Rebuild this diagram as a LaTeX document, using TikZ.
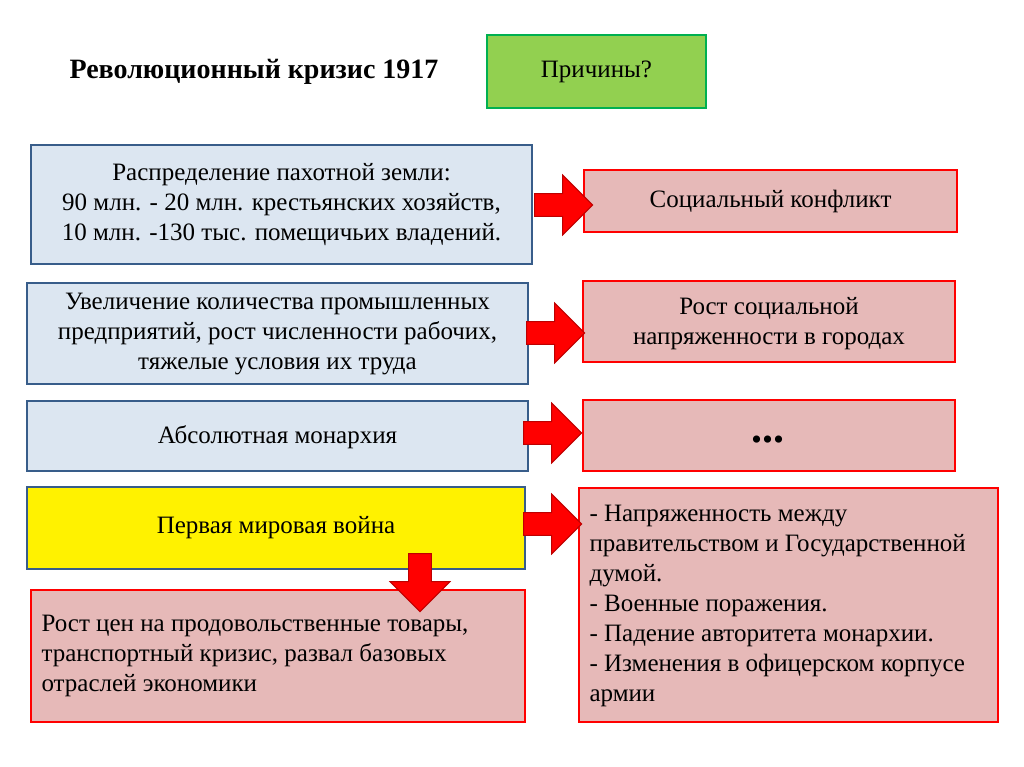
\documentclass[tikz,border=0pt]{standalone}
\usepackage{fontspec}
\setmainfont{Liberation Serif}
\usetikzlibrary{shapes.arrows}
\definecolor{bluefill}{RGB}{220,230,241}
\definecolor{blueline}{RGB}{56,93,138}
\definecolor{pinkfill}{RGB}{230,185,184}
\definecolor{greenfill}{RGB}{146,208,80}
\definecolor{greenline}{RGB}{0,176,80}
\definecolor{arrowline}{RGB}{190,0,0}
\tikzset{
 txt/.style={font=\fontsize{25}{30}\selectfont, align=center},
 bluebox/.style={draw=blueline, line width=1.5pt, fill=bluefill},
 pinkbox/.style={draw=red, line width=1.5pt, fill=pinkfill},
 redarrow/.style={single arrow, draw=arrowline, fill=red, line width=1pt, minimum height=58pt, minimum width=60pt, single arrow head extend=14pt, inner sep=8pt, single arrow tip angle=90},
}
\begin{document}
\begin{tikzpicture}[x=1pt,y=-1pt]
\useasboundingbox (0,0) rectangle (1024,767);
\fill[white] (0,0) rectangle (1024,767);
\node[font=\fontsize{28}{32}\selectfont\bfseries, anchor=west] (title) at (66,72) {Революционный кризис 1917};
\draw[fill=greenfill, draw=greenline, line width=1.5pt] (487,35) rectangle (706,108);
\node[txt] (why) at (596.5,72) {Причины?};

\draw[bluebox] (31,145) rectangle (532,264);
\node[txt] (b1) at (281.5,205) {Распределение пахотной земли:\\90 млн. - 20 млн. крестьянских хозяйств,\\10 млн. -130 тыс. помещичьих владений.};
\draw[pinkbox] (584,170) rectangle (957,232);
\node[txt] (r1) at (770.5,201) {Социальный конфликт};

\draw[bluebox] (27,283) rectangle (528,384);
\node[txt] (b2) at (277.5,334) {Увеличение количества промышленных\\предприятий, рост численности рабочих,\\тяжелые условия их труда};
\draw[pinkbox] (583,281) rectangle (955,362);
\node[txt] (r2) at (769,324) {Рост социальной\\напряженности в городах};

\draw[bluebox] (27,401) rectangle (528,471);
\node[txt] (b3) at (277.5,437) {Абсолютная монархия};
\draw[pinkbox] (583,400) rectangle (955,471);
\node[font=\fontsize{44}{44}\selectfont\bfseries] (r3) at (768,440) {...};

\draw[draw=blueline, line width=1.5pt, fill=yellow] (27,487) rectangle (525,569);
\node[txt] (b4) at (276,528) {Первая мировая война};

\draw[pinkbox] (31,590) rectangle (525,722);
\node[txt, align=left, anchor=north west] (b5) at (38,612) {Рост цен на продовольственные товары,\\транспортный кризис, развал базовых\\отраслей экономики};

\draw[pinkbox] (579,488) rectangle (998,722);
\node[txt, align=left, anchor=north west] (r4) at (586,502) {- Напряженность между\\правительством и Государственной\\думой.\\- Военные поражения.\\- Падение авторитета монархии.\\- Изменения в офицерском корпусе\\армии};

\node[redarrow] (a1) at (558,205) {};
\node[redarrow] (a2) at (550,333) {};
\node[redarrow] (a3) at (547,433) {};
\node[redarrow] (a4) at (547,524) {};
\node[redarrow, shape border rotate=270] (a5) at (420,577) {};
\end{tikzpicture}
\end{document}
